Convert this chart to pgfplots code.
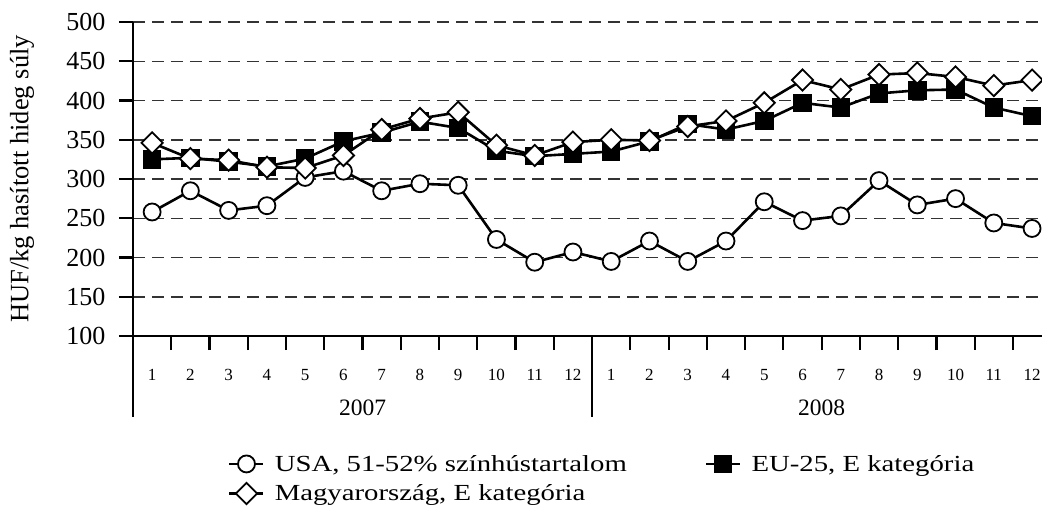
\documentclass[border=0pt]{standalone}
\usepackage{fontspec}
\setmainfont{Liberation Serif}
\newfontfamily\legfont{Liberation Serif}[FakeStretch=1.25]
\usepackage{pgfplots}
\pgfplotsset{compat=1.18}
\usepackage{pgfplotstable}

\pgfplotstableread{
x usa eu hu
0 258 325 346
1 285 327 326
2 260 322 324
3 266 316 315
4 302 326 314
5 310 348 330
6 285 359 363
7 294 373 377
8 292 365 385
9 223 336 343
10 194 329 330
11 207 332 347
12 195 335 350
13 221 348 349
14 195 370 367
15 221 363 374
16 271 374 397
17 247 397 426
18 253 391 414
19 298 409 433
20 267 413 435
21 275 414 430
22 244 391 419
23 237 380 426
}\datatable

\begin{document}
\begin{tikzpicture}
\begin{axis}[
  at={(0pt,0pt)}, anchor=south west,
  scale only axis, width=909pt, height=314pt,
  xmin=-0.5, xmax=23.26, ymin=100, ymax=500,
  clip=false,
  axis x line*=bottom, axis y line*=left,
  axis line style={line width=2.2pt, -},
  ytick={100,150,...,500},
  /pgf/number format/assume math mode=true,
  yticklabel style={font=\fontsize{26}{30}\selectfont, xshift=-10pt},
  ymajorgrids,
  major grid style={black!80, line width=1.5pt, dash pattern=on 12pt off 7pt},
  tick align=outside,
  major tick length=14pt,
  tick style={line width=2.2pt, black},
  xtick={0.5,1.5,...,22.5},
  xticklabels={},
  extra x ticks={0,1,...,23},
  extra x tick labels={1,2,3,4,5,6,7,8,9,10,11,12,1,2,3,4,5,6,7,8,9,10,11,12},
  extra x tick style={major tick length=0pt, xmajorgrids=false,
     xticklabel style={font=\fontsize{17}{20}\selectfont, anchor=center, yshift=-39pt}},
  ylabel={HUF/kg hasított hideg súly},
  ylabel style={at={(axis description cs:-0.122,0.5)}, anchor=center, font=\fontsize{26.5}{30}\selectfont},
  legend columns=2,
  legend style={at={(axis description cs:0.1045,-0.3726)}, anchor=north west, draw=none, fill=none,
     font=\legfont\fontsize{23}{28}\selectfont, inner sep=0pt, row sep=8pt,
     /tikz/every odd column/.append style={column sep=8pt},
     /tikz/every even column/.append style={column sep=76pt}},
  legend cell align=left,
  legend image code/.code={\draw[mark repeat=2,mark phase=2,#1] plot coordinates {(0pt,0pt) (17pt,0pt) (34pt,0pt)};},
]
\addplot[black, line width=2.6pt, mark=*, mark size=8.5pt, mark options={solid, fill=white, line width=1.8pt}] table[x=x, y=usa] {\datatable};
\addlegendentry{USA, 51-52\% színhústartalom}
\addplot[black, line width=2.6pt, mark=square*, mark size=8.5pt, mark options={solid, fill=black, line width=1.5pt}] table[x=x, y=eu] {\datatable};
\addlegendentry{EU-25, E kategória}
\addplot[black, line width=2.6pt, mark=square*, mark size=7.5pt, mark options={solid, fill=white, line width=1.8pt, rotate=45}] table[x=x, y=hu] {\datatable};
\addlegendentry{Magyarország, E kategória}
\draw[line width=2.2pt] (axis cs:11.5,100) -- ([yshift=-81pt]axis cs:11.5,100);
\draw[line width=2.2pt] (axis cs:-0.5,100) -- ([yshift=-81pt]axis cs:-0.5,100);
\node[font=\fontsize{23.5}{28}\selectfont] at ([yshift=-72pt]axis cs:5.5,100) {2007};
\node[font=\fontsize{23.5}{28}\selectfont] at ([yshift=-72pt]axis cs:17.5,100) {2008};
\end{axis}
\pgfresetboundingbox
\path[use as bounding box] (-133pt,-176pt) rectangle (909pt,336pt);
\end{tikzpicture}
\end{document}
